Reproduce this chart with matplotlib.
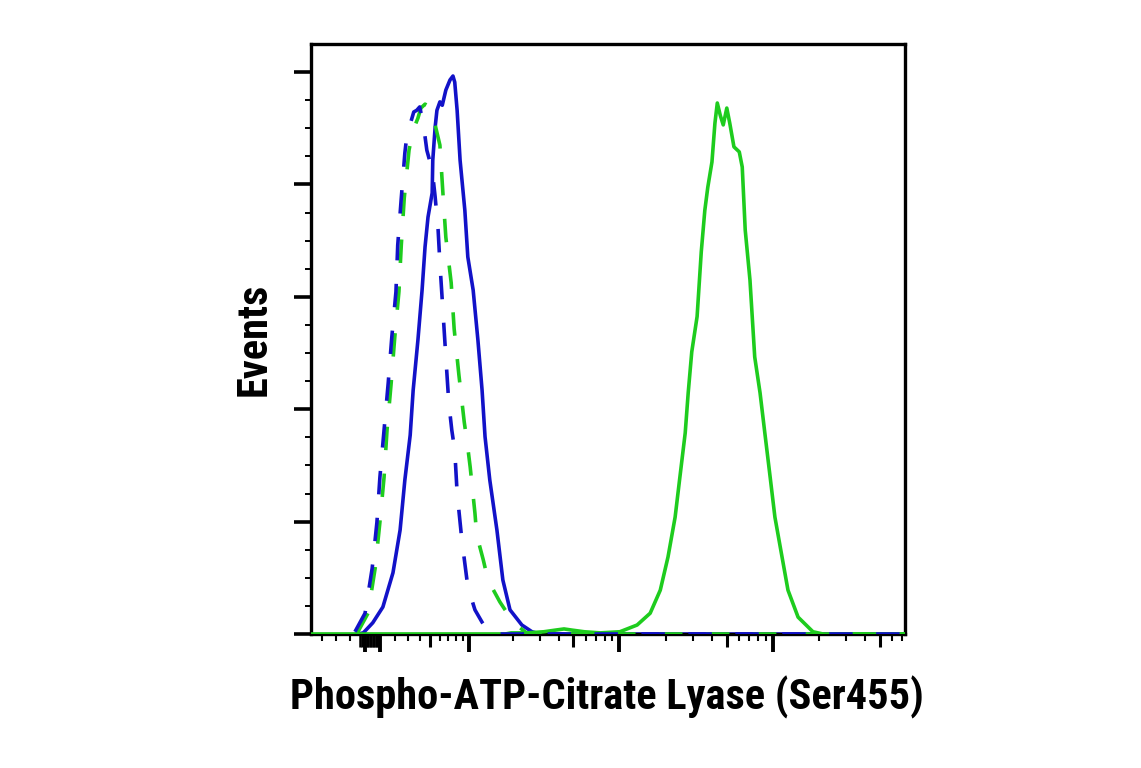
import numpy as np
import matplotlib
matplotlib.use('Agg')
import matplotlib.pyplot as plt

# histogram traces, x in display channels (0-1000), y in % of max events
blue_solid_x = [79, 88, 104, 121, 138, 150, 158, 167, 172, 180, 187, 192, 197, 204, 205, 209, 212, 217, 221,
                227, 234, 239, 242, 246, 251, 259, 264, 273, 281, 288, 293, 301, 313, 323, 335, 355, 372, 386, 1000]
blue_solid_y = [0, 0.2, 2.0, 4.8, 10.9, 18.5, 27.4, 35.4, 43.4, 52.3, 61.2, 68.9, 74.2, 78.5, 84.3, 90.2, 93.2,
                94.7, 94.1, 96.8, 98.6, 99.3, 98.2, 93.2, 84.3, 75.4, 67.1, 61.2, 52.3, 43.4, 35.1, 27.4, 18.5,
                9.6, 4.3, 1.6, 0.4, 0, 0]

blue_dash_x = [74, 91, 103, 111, 116, 123, 130, 136, 143, 146, 152, 158, 163, 168, 173, 178, 183, 189, 195, 204,
               209, 214, 217, 222, 227, 232, 237, 242, 246, 254, 264, 276, 288, 301, 1000]
blue_dash_y = [0.4, 3.7, 11.7, 19.9, 27.9, 36.3, 44.7, 52.8, 60.9, 69.2, 77.6, 85.6, 90.2, 91.1, 92.9, 93.2,
               93.8, 90.9, 86.1, 82.6, 77.8, 71.9, 66.0, 57.7, 49.3, 41.1, 36.3, 32.7, 25.1, 16.7, 8.4, 4.3,
               2.1, 0, 0]

green_dash_x = [77, 96, 108, 116, 123, 128, 135, 141, 148, 152, 157, 165, 172, 180, 185, 192, 200, 205, 209,
                217, 222, 227, 236, 241, 249, 258, 263, 268, 276, 279, 290, 298, 318, 338, 352, 365, 1000]
green_dash_y = [0, 3.7, 11.7, 19.9, 27.9, 36.3, 44.7, 52.8, 60.9, 69.2, 77.6, 86.1, 89.7, 91.8, 93.6, 94.3,
                93.8, 92.3, 90.6, 87.0, 78.6, 70.6, 62.5, 54.3, 46.1, 37.7, 34.0, 29.7, 21.5, 17.6, 13.2, 9.6,
                5.7, 2.5, 1.1, 0, 0]

green_solid_x = [0, 327, 337, 365, 392, 412, 426, 439, 460, 487, 520, 549, 571, 588, 601, 613, 621, 630, 635,
                 641, 650, 657, 663, 668, 675, 680, 684, 689, 694, 700, 705, 712, 721, 726, 731, 739, 747, 756,
                 764, 773, 781, 793, 803, 820, 845, 862, 1000]
green_solid_y = [0, 0, 0.2, 0.2, 0.4, 0.7, 0.9, 0.7, 0.4, 0.2, 0.4, 1.6, 3.7, 7.8, 13.7, 20.8, 27.9, 35.8,
                 42.9, 50.2, 56.5, 68.0, 75.4, 79.5, 84.0, 90.9, 94.5, 92.3, 90.6, 93.6, 90.9, 86.7, 85.8, 83.1,
                 71.9, 63.0, 49.3, 42.9, 35.8, 27.9, 20.8, 13.7, 7.8, 3.0, 0.4, 0, 0]

BLUE = '#1212C8'
GREEN = '#1ECC1E'
LW = 2.6


def to_channel(v):
    # biexponential-like display transform used for tick placement
    return 91 + 112 * np.arcsinh(np.asarray(v, dtype=float) / 437.0)


fig = plt.figure(figsize=(11.41, 7.68), dpi=100)
ax = fig.add_axes([311 / 1141, 134 / 768, 594 / 1141, 590 / 768])

ax.plot(blue_solid_x, blue_solid_y, color=BLUE, lw=LW, zorder=2)
ax.plot(green_dash_x, green_dash_y, color=GREEN, lw=LW, dashes=(6.5, 6.5), zorder=3)
ax.plot(green_solid_x, green_solid_y, color=GREEN, lw=LW, zorder=4)
ax.plot(blue_dash_x, blue_dash_y, color=BLUE, lw=LW, dashes=(6.5, 6.5), zorder=5)

ax.set_xlim(0, 1000)
ax.set_ylim(0, 105)

for s in ax.spines.values():
    s.set_linewidth(2.4)

# y ticks
ax.set_yticks(np.arange(0, 101, 20))
ax.set_yticks(np.arange(0, 105, 5), minor=True)
ax.tick_params(axis='y', which='major', length=12, width=2.6, labelleft=False)
ax.tick_params(axis='y', which='minor', length=4.5, width=1.4)

# x ticks
majors = [0, 100, 1e3, 1e4, 1e5]
minors = [-400, -300, -200, -100, 200, 300, 400, 600, 700, 800, 900]
for d in [1e3, 1e4, 1e5]:
    minors += [m * d for m in [2, 3, 4, 6, 7, 8, 9]]
minors = [m for m in minors if 0 <= to_channel(m) <= 1000]
ax.set_xticks(to_channel(majors))
ax.set_xticks(to_channel(minors), minor=True)
ax.tick_params(axis='x', which='major', length=13, width=2.8, labelbottom=False)
ax.tick_params(axis='x', which='minor', length=5, width=1.5)

# mid-decade ticks and the crowded ticks near zero
sec = ax.secondary_xaxis('bottom')
sec.set_xticks(to_channel([500, 5e3, 5e4, 5e5]))
sec.set_xticks(to_channel([-30, -20, -10, 10, 20, 30, 40, 50, 60, 70, 80, 90]), minor=True)
sec.tick_params(axis='x', which='major', length=9, width=2.2, labelbottom=False)
sec.tick_params(axis='x', which='minor', length=9, width=1.8)
sec.spines['bottom'].set_visible(False)

fnt = dict(family=['Roboto Condensed', 'Liberation Sans Narrow', 'DejaVu Sans'],
           stretch='condensed', weight='bold', size=30.5)
fig.text(607 / 1141, 1 - 697 / 768, 'Phospho-ATP-Citrate Lyase (Ser455)', ha='center', va='center', **fnt)
fig.text(254 / 1141, 1 - 339 / 768, 'Events', rotation=90, ha='center', va='center', **fnt)

fig.savefig('out.png', dpi=100)
